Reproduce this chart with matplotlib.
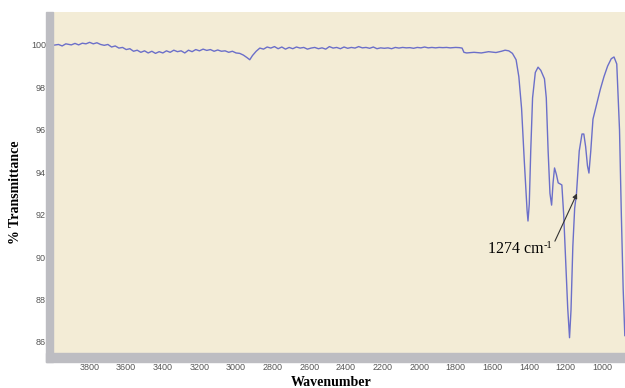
import matplotlib
matplotlib.use("Agg")
import matplotlib.pyplot as plt
from matplotlib.patches import Rectangle
from matplotlib.ticker import MultipleLocator

wavenumber = [4000, 3970, 3950, 3930, 3900, 3880, 3860, 3840, 3820, 3800, 3780, 3760, 3740, 3720, 3700,
              3680, 3660, 3640, 3620, 3600, 3580, 3560, 3540, 3520, 3500, 3480, 3460, 3440, 3420, 3400,
              3380, 3360, 3340, 3320, 3300, 3280, 3260, 3240, 3220, 3200, 3180, 3160, 3140, 3120, 3100,
              3080, 3060, 3040, 3020, 3000, 2980, 2960, 2940, 2925, 2910, 2890, 2870, 2850, 2830, 2810,
              2790, 2770, 2750, 2730, 2710, 2690, 2670, 2650, 2630, 2610, 2590, 2570, 2550, 2530, 2510,
              2490, 2470, 2450, 2430, 2410, 2390, 2370, 2350, 2330, 2310, 2290, 2270, 2250, 2230, 2210,
              2190, 2170, 2150, 2130, 2110, 2090, 2070, 2050, 2030, 2010, 1990, 1970, 1950, 1930, 1910,
              1890, 1870, 1850, 1830, 1800, 1780, 1765, 1755, 1740, 1700, 1660, 1620, 1580, 1550, 1530,
              1510, 1490, 1470, 1455, 1440, 1425, 1410, 1405, 1398, 1390, 1380, 1365, 1350, 1335, 1315,
              1305, 1295, 1285, 1276, 1268, 1260, 1250, 1240, 1220, 1210, 1200, 1188, 1178, 1170, 1160,
              1150, 1140, 1125, 1110, 1100, 1090, 1080, 1072, 1062, 1050, 1030, 1010, 990, 970, 950,
              935, 920, 905, 895, 885, 876]
transmittance = [99.98, 100.02, 99.95, 100.05, 100.0, 100.07, 100.0, 100.08, 100.05, 100.12, 100.05, 100.1, 100.02, 99.98, 100.02,
                 99.9, 99.95, 99.85, 99.88, 99.78, 99.82, 99.7, 99.75, 99.65, 99.72, 99.62, 99.7, 99.6, 99.68, 99.62,
                 99.72, 99.65, 99.75, 99.68, 99.72, 99.62, 99.75, 99.68, 99.78, 99.72, 99.8, 99.74, 99.78, 99.7, 99.76,
                 99.7, 99.72, 99.65, 99.7, 99.62, 99.6, 99.52, 99.4, 99.3, 99.5, 99.7, 99.85, 99.8, 99.9, 99.85,
                 99.92, 99.82, 99.9, 99.8, 99.88, 99.82, 99.9, 99.85, 99.88, 99.8, 99.85, 99.88, 99.82, 99.86, 99.8,
                 99.92, 99.85, 99.88, 99.82, 99.9, 99.84, 99.88, 99.85, 99.92, 99.86, 99.88, 99.84, 99.9, 99.82, 99.86,
                 99.84, 99.86, 99.82, 99.88, 99.85, 99.88, 99.86, 99.87, 99.84, 99.88, 99.86, 99.9, 99.86, 99.88, 99.86,
                 99.88, 99.87, 99.88, 99.86, 99.88, 99.87, 99.85, 99.65, 99.62, 99.65, 99.62, 99.68, 99.64, 99.7, 99.75,
                 99.72, 99.6, 99.3, 98.5, 97.0, 94.5, 92.2, 91.7, 92.5, 95.0, 97.5, 98.7, 98.95, 98.8, 98.4,
                 97.5, 95.0, 93.0, 92.45, 93.5, 94.2, 93.9, 93.5, 93.4, 92.0, 90.0, 87.6, 86.2, 87.5, 90.5,
                 92.3, 93.0, 95.0, 95.8, 95.8, 95.2, 94.3, 93.96, 95.0, 96.5, 97.2, 97.9, 98.5, 99.0, 99.35,
                 99.43, 99.1, 96.0, 92.0, 88.5, 86.3]

yticks = [86, 88, 90, 92, 94, 96, 98, 100]
xticks = [3800, 3600, 3400, 3200, 3000, 2800, 2600, 2400, 2200, 2000, 1800, 1600, 1400, 1200, 1000]

annot_main = "1274 cm"
annot_sup = "-1"
annot_xy = (1137, 93.0)
annot_tail = (1258, 90.75)
annot_text_pos = (1624, 90.19)

W, H = 625, 388
fig = plt.figure(figsize=(W / 100, H / 100), dpi=100)
fig.patch.set_facecolor("white")

gray = "#bdbdc2"
fig.patches.append(Rectangle((46 / W, 1 - 362 / H), 7 / W, (362 - 12) / H,
                             transform=fig.transFigure, color=gray, zorder=0))
fig.patches.append(Rectangle((46 / W, 1 - 362 / H), (W - 46) / W, 9 / H,
                             transform=fig.transFigure, color=gray, zorder=0))

ax = fig.add_axes([53 / W, 1 - 353 / H, 1 - 53 / W, (353 - 12) / H])
ax.set_facecolor("#f3ecd6")
for s in ax.spines.values():
    s.set_visible(False)

ax.plot(wavenumber, transmittance, color="#6b6fc9", lw=1.0)

ax.set_xlim(4000, 875)
ax.set_ylim(85.48, 101.55)

ax.set_yticks(yticks)
ax.set_yticklabels([str(v) for v in yticks])
ax.set_xticks(xticks)
ax.set_xticklabels([str(v) for v in xticks])
ax.xaxis.set_minor_locator(MultipleLocator(40))

ax.tick_params(axis="y", which="major", direction="out", length=4.5, width=0.8,
               color="#d05050", labelcolor="#555555", labelsize=6.5, pad=0.5)
ax.tick_params(axis="x", which="major", direction="out", length=3.5, width=0.7,
               color="#d05050", labelcolor="#555555", labelsize=6.5, pad=3.5)
ax.tick_params(axis="x", which="minor", direction="out", length=1.5, width=0.7,
               color="#d05050")
for lbl in ax.get_xticklabels() + ax.get_yticklabels():
    lbl.set_fontfamily("Liberation Sans")

fig.text(331 / W, 1 - 386 / H, "Wavenumber", fontfamily="Liberation Serif",
         fontweight="bold", fontsize=10, ha="center", va="baseline")
fig.text(16 / W, 1 - 192 / H, "% Transmittance", fontfamily="Liberation Serif",
         fontweight="bold", fontsize=10, ha="center", va="center", rotation=90)

ax.annotate("", xy=annot_xy, xytext=annot_tail,
            arrowprops=dict(arrowstyle="-|>", color="#333333", lw=0.8,
                            mutation_scale=7, shrinkA=0, shrinkB=0))
txt = ax.text(annot_text_pos[0], annot_text_pos[1], annot_main,
              fontfamily="Liberation Serif", fontsize=11.5, ha="left", va="baseline")
fig.canvas.draw()
bb = txt.get_window_extent()
sup_x, sup_y = ax.transData.inverted().transform((bb.x1 + 0.5, bb.y1 - 7))
ax.text(sup_x, sup_y, annot_sup, fontfamily="Liberation Serif", fontsize=7.5,
        ha="left", va="baseline")

fig.savefig("out.png", dpi=100)
